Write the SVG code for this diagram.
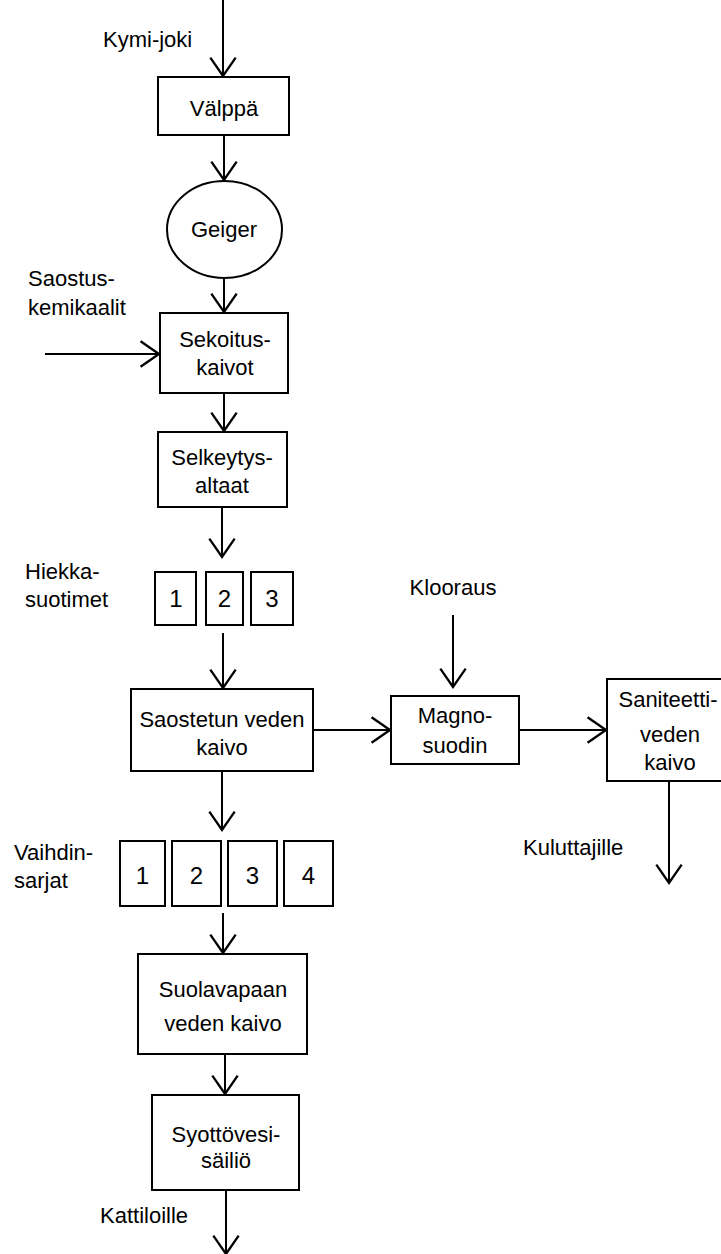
<svg xmlns="http://www.w3.org/2000/svg" width="721" height="1254" viewBox="0 0 721 1254">
<style>
.b{fill:#fff;stroke:#000;stroke-width:2}
.c line{stroke:#000;stroke-width:2;marker-end:url(#ah)}
text{font-family:"Liberation Sans",Arial,sans-serif;font-size:22px;fill:#000}
.m{text-anchor:middle}
.n{font-size:24px;text-anchor:middle}
</style>
<defs>
<marker id="ah" markerUnits="userSpaceOnUse" markerWidth="24" markerHeight="30" refX="0" refY="0" viewBox="-18 -13 20 26" orient="auto" overflow="visible">
<path d="M-16,-11 L0,0 L-16,11" fill="none" stroke="#000" stroke-width="2"/>
</marker>
</defs>
<g id="connectors" class="c">
<line x1="223" y1="0" x2="223" y2="76"/>
<line x1="224" y1="135" x2="224" y2="180"/>
<line x1="224" y1="278" x2="224" y2="312"/>
<line x1="45" y1="354" x2="159" y2="354"/>
<line x1="224" y1="393" x2="224" y2="431"/>
<line x1="222" y1="507" x2="222" y2="557"/>
<line x1="223" y1="633" x2="223" y2="688"/>
<line x1="453" y1="615" x2="453" y2="687"/>
<line x1="313" y1="730" x2="390" y2="730"/>
<line x1="519" y1="730" x2="606" y2="730"/>
<line x1="669" y1="781" x2="669" y2="883"/>
<line x1="222" y1="771" x2="222" y2="830"/>
<line x1="223" y1="913" x2="223" y2="953"/>
<line x1="225" y1="1054" x2="225" y2="1094"/>
<line x1="226" y1="1190" x2="226" y2="1254"/>
</g>
<g id="kymi-joki"><text x="103" y="47">Kymi-joki</text></g>
<g id="valppa"><rect class="b" x="158" y="77" width="131" height="58"/><text class="m" x="224" y="116">Välppä</text></g>
<g id="geiger"><ellipse class="b" cx="224.5" cy="229.5" rx="57.5" ry="48.5"/><text class="m" x="224" y="237">Geiger</text></g>
<g id="saostuskemikaalit"><text x="28" y="286">Saostus-</text><text x="28" y="315">kemikaalit</text></g>
<g id="sekoituskaivot"><rect class="b" x="160" y="313" width="128" height="80"/><text class="m" x="225" y="347">Sekoitus-</text><text class="m" x="225" y="375">kaivot</text></g>
<g id="selkeytysaltaat"><rect class="b" x="158" y="432" width="129" height="75"/><text class="m" x="222" y="465">Selkeytys-</text><text class="m" x="222" y="493">altaat</text></g>
<g id="hiekkasuotimet-label"><text x="25" y="579">Hiekka-</text><text x="25" y="607">suotimet</text></g>
<g id="hiekka1"><rect class="b" x="155" y="572" width="41" height="53"/><text class="n" x="176" y="607">1</text></g>
<g id="hiekka2"><rect class="b" x="206" y="572" width="37" height="53"/><text class="n" x="224.5" y="607">2</text></g>
<g id="hiekka3"><rect class="b" x="251" y="572" width="42" height="53"/><text class="n" x="272" y="607">3</text></g>
<g id="klooraus"><text class="m" x="453" y="595">Klooraus</text></g>
<g id="saostetun"><rect class="b" x="131" y="689" width="182" height="82"/><text class="m" x="222" y="727">Saostetun veden</text><text class="m" x="222" y="755">kaivo</text></g>
<g id="magnosuodin"><rect class="b" x="391" y="696" width="128" height="68"/><text class="m" x="455" y="723">Magno-</text><text class="m" x="455" y="753">suodin</text></g>
<g id="saniteetti"><rect class="b" x="607" y="679" width="126" height="102"/><text class="m" x="668" y="707">Saniteetti-</text><text class="m" x="670" y="742">veden</text><text class="m" x="670" y="770">kaivo</text></g>
<g id="kuluttajille"><text x="523" y="855">Kuluttajille</text></g>
<g id="vaihdinsarjat-label"><text x="14" y="860">Vaihdin-</text><text x="14" y="888">sarjat</text></g>
<g id="vaihdin1"><rect class="b" x="120" y="841" width="45" height="65"/><text class="n" x="142.5" y="884">1</text></g>
<g id="vaihdin2"><rect class="b" x="172" y="841" width="49" height="65"/><text class="n" x="196.5" y="884">2</text></g>
<g id="vaihdin3"><rect class="b" x="228" y="841" width="49" height="65"/><text class="n" x="252.5" y="884">3</text></g>
<g id="vaihdin4"><rect class="b" x="284" y="841" width="49" height="65"/><text class="n" x="308.5" y="884">4</text></g>
<g id="suolavapaan"><rect class="b" x="138" y="954" width="169" height="100"/><text class="m" x="223" y="997">Suolavapaan</text><text class="m" x="223" y="1031">veden kaivo</text></g>
<g id="syottovesi"><rect class="b" x="152" y="1095" width="147" height="95"/><text class="m" x="226" y="1142">Syottövesi-</text><text class="m" x="226" y="1168">säiliö</text></g>
<g id="kattiloille"><text x="100" y="1223">Kattiloille</text></g>
</svg>
